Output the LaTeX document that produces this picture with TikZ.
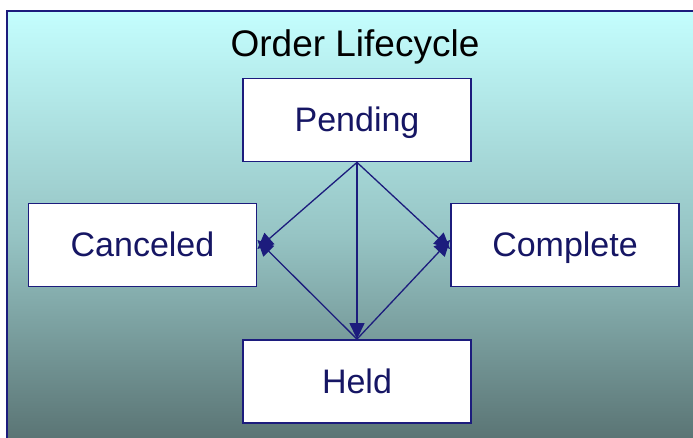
\documentclass[tikz,border=0pt]{standalone}
\usepackage{fontspec}
\setmainfont{Liberation Sans}
\usepackage{xcolor}
\usetikzlibrary{arrows.meta}

\definecolor{navy}{RGB}{28,28,125}
\definecolor{inkblue}{RGB}{22,22,100}
\definecolor{skytop}{RGB}{196,254,254}
\definecolor{skymid}{RGB}{150,196,196}
\definecolor{skybot}{RGB}{84,108,108}

\begin{document}
\begin{tikzpicture}[
    x=1pt, y=-1pt,
    statebox/.style={rectangle, draw=navy, fill=white, line width=1.8pt, minimum width=228pt, minimum height=83pt, font=\fontsize{34}{40}\selectfont, text=inkblue, inner sep=0pt, text height=24pt, text depth=0pt},
    trans/.style={-{Triangle[length=16pt, width=15pt]}, navy, line width=1.3pt},
]
\useasboundingbox (0,0) rectangle (693,438);

% Background frame
\shade[top color=skytop, bottom color=skybot, middle color=skymid] (7,11) rectangle (720,460);
\draw[navy, line width=1.6pt] (7,11) rectangle (720,460);

% Title
\node[font=\fontsize{37}{42}\selectfont, inner sep=0pt, text height=26pt, text depth=0pt] (title) at (355,44) {Order Lifecycle};

% States
\node[statebox] (pending) at (357,120) {Pending};
\node[statebox] (canceled) at (142.5,245) {Canceled};
\node[statebox] (complete) at (565,245) {Complete};
\node[statebox] (held) at (357,381.5) {Held};

% Transitions
\draw[trans] (pending.south) -- ([yshift=-4pt]canceled.east);
\draw[trans] (pending.south) -- ([yshift=-4pt]complete.west);
\draw[trans] (pending.south) -- (held.north);
\draw[trans] (held.north) -- ([yshift=5pt]canceled.east);
\draw[trans] (held.north) -- ([yshift=5pt]complete.west);

\end{tikzpicture}
\end{document}
